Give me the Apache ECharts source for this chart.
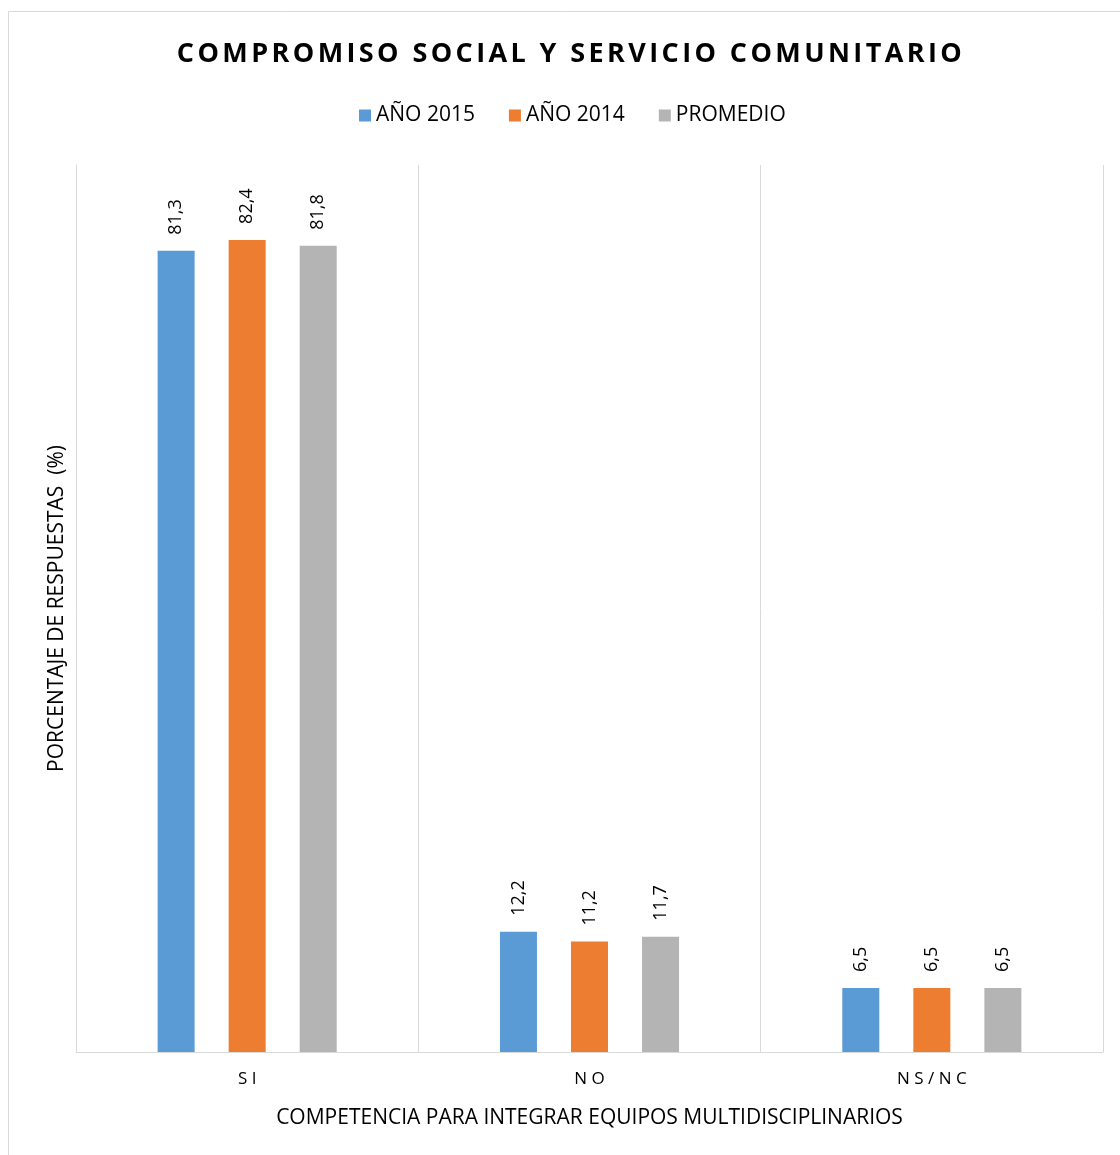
<!DOCTYPE html>
<html>
<head>
<meta charset="utf-8">
<script src="https://cdn.jsdelivr.net/npm/echarts@6/dist/echarts.min.js"></script>
<style>html,body{margin:0;padding:0;background:#fff}#c{width:1120px;height:1155px}</style>
</head>
<body>
<div id="c"></div>
<script>
const categories = ['SI', 'NO', 'NS/NC'];
const seriesNames = ['AÑO 2015', 'AÑO 2014', 'PROMEDIO'];
const values2015 = [81.3, 12.2, 6.5];
const values2014 = [82.4, 11.2, 6.5];
const valuesProm = [81.8, 11.7, 6.5];
const colors = ['#5B9BD5', '#ED7D31', '#B4B4B4'];
const titleText = 'COMPROMISO SOCIAL Y SERVICIO COMUNITARIO';
const xName = 'COMPETENCIA PARA INTEGRAR EQUIPOS MULTIDISCIPLINARIOS';
const yName = 'PORCENTAJE DE RESPUESTAS  (%)';

// letter-spaced title (Excel-style character spacing)
(function () {
  const proto = CanvasRenderingContext2D.prototype;
  const orig = proto.fillText;
  proto.fillText = function (t, x, y, w) {
    if (t === titleText && 'letterSpacing' in this) {
      const prev = this.letterSpacing;
      this.letterSpacing = '3.4px';
      const r = orig.call(this, t, x, y, w);
      this.letterSpacing = prev;
      return r;
    }
    return orig.call(this, t, x, y, w);
  };
})();

const font = '"Open Sans", "Liberation Sans", sans-serif';
const chart = echarts.init(document.getElementById('c'));
const mk = (name, data, color) => ({
  name, type: 'bar', data, barWidth: 37, barGap: '92%',
  itemStyle: { color },
  label: {
    show: true, position: 'top', rotate: 90, align: 'left', verticalAlign: 'middle',
    distance: 16, fontSize: 18, color: '#000', fontFamily: font,
    formatter: p => String(p.value).replace('.', ',')
  }
});
chart.setOption({
  animation: false,
  title: {
    text: titleText, left: 566, top: 36, textAlign: 'center',
    textStyle: { fontFamily: font, fontWeight: 'bold', fontSize: 27, color: '#000' }
  },
  legend: {
    data: seriesNames, left: 354, top: 100, itemWidth: 12, itemHeight: 12,
    itemGap: 34, icon: 'rect',
    textStyle: { fontFamily: font, fontSize: 21, color: '#000' }
  },
  grid: { left: 76, right: 17, top: 165, bottom: 103, containLabel: false },
  xAxis: {
    type: 'category', data: categories,
    axisLine: { show: true, lineStyle: { color: '#D9D9D9', width: 1 } },
    axisTick: { show: false },
    splitLine: { show: true, lineStyle: { color: '#D9D9D9', width: 1 } },
    axisLabel: { fontFamily: font, fontSize: 17, color: '#000', margin: 19,
      formatter: v => v.split('').join(' ') },
    name: xName, nameLocation: 'middle', nameGap: 56,
    nameTextStyle: { fontFamily: font, fontSize: 21, color: '#000' }
  },
  yAxis: {
    type: 'value', min: 0, max: 90,
    axisLine: { show: true, lineStyle: { color: '#D9D9D9' } },
    axisLabel: { show: false }, axisTick: { show: false }, splitLine: { show: false },
    name: yName, nameLocation: 'middle', nameGap: 8,
    nameTextStyle: { fontFamily: font, fontSize: 21, color: '#000' }
  },
  graphic: [
    { type: 'line', shape: { x1: 8.5, y1: 11.5, x2: 1120, y2: 11.5 }, style: { stroke: '#D9D9D9', lineWidth: 1 } },
    { type: 'line', shape: { x1: 8.5, y1: 11.5, x2: 8.5, y2: 1155 }, style: { stroke: '#D9D9D9', lineWidth: 1 } }
  ],
  series: [
    mk(seriesNames[0], values2015, colors[0]),
    mk(seriesNames[1], values2014, colors[1]),
    mk(seriesNames[2], valuesProm, colors[2])
  ]
});
</script>
</body>
</html>
